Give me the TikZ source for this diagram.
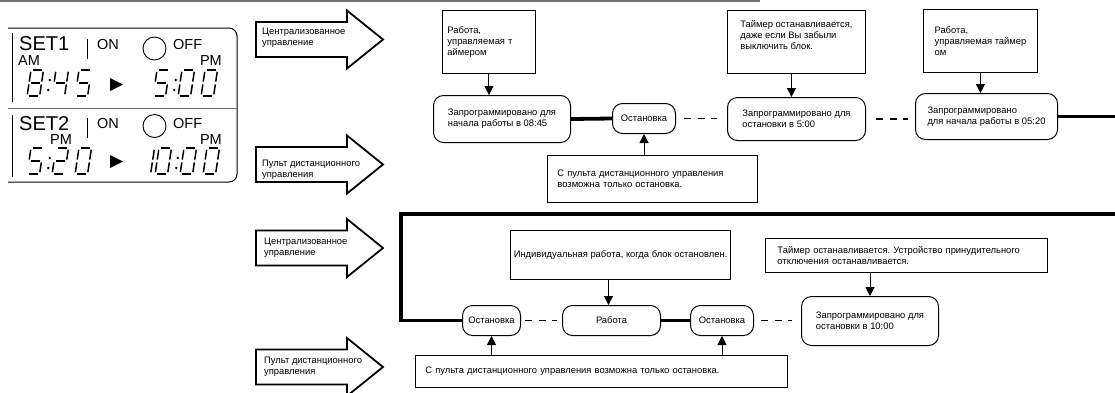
\documentclass[tikz,border=0pt]{standalone}
\usepackage{fontspec}
\setmainfont{Liberation Sans}
\usetikzlibrary{positioning, arrows.meta}
\frenchspacing

% seven-segment cell: width 12.5, height 26
\tikzset{
    seg a/.style={insert path={(1.8,0) -- (10.7,0)}},
    seg b/.style={insert path={(12.5,1.8) -- (12.5,11.6)}},
    seg c/.style={insert path={(12.5,14.4) -- (12.5,24.2)}},
    seg d/.style={insert path={(1.8,26) -- (10.7,26)}},
    seg e/.style={insert path={(0,14.4) -- (0,24.2)}},
    seg f/.style={insert path={(0,1.8) -- (0,11.6)}},
    seg g/.style={insert path={(1.8,13) -- (10.7,13)}}
}
\newcommand{\lcddigit}[3]{%
  \begin{scope}[shift={(#1,#2)}, xslant=0.15]
    \foreach \s in {#3} \draw[lcd, seg \s];
  \end{scope}}
\newcommand{\lcdcolon}[2]{%
  \fill (#1+0.8,#2+10) circle (1.4);
  \fill (#1-0.8,#2+20) circle (1.4);}

\begin{document}
\begin{tikzpicture}[
    x=1pt, y=-1pt,
    font=\fontsize{9.4}{11}\selectfont,
    note/.style={rectangle, draw, line width=0.9pt, align=left, anchor=north west, inner ysep=2pt},
    state/.style={rectangle, draw, line width=1pt, rounded corners=10pt, align=left, anchor=north west},
    stop/.style={state, align=center, inner sep=1pt},
    thickline/.style={line width=3.8pt},
    dashline/.style={line width=1.2pt, dash pattern=on 7pt off 6.5pt},
    arrow/.style={-{Triangle[width=9pt,length=9pt]}, line width=1pt},
    lcd/.style={line width=1.5pt},
    big/.style={font=\fontsize{20}{22}\selectfont, inner sep=0pt},
    mid/.style={font=\fontsize{14.5}{16}\selectfont, inner sep=0pt},
    label/.style={align=left, anchor=north west, inner sep=0pt},
    ctrlarrow/.pic={
        \draw[line width=1.8pt] (0,-17.5) -- (91,-17.5) -- (91,-29) -- (127,0)
            -- (91,29) -- (91,17.5) -- (0,17.5) -- cycle;
    }
]
\clip (0,0) rectangle (1115,392);

\draw[black!55, line width=1.2pt] (0,1) -- (760,1);

% timer panel
\draw[line width=1pt, rounded corners=8pt] (8,28) -- (237,28) -- (237,182) -- (8,182);
\draw[black!60, line width=1pt] (8,108) -- (237,108);
\draw[line width=0.8pt] (12,33) -- (12,102);
\draw[line width=0.8pt] (12,115) -- (12,177);

\node[big, anchor=base west] (set1) at (19,50) {SET1};
\node[mid, anchor=base west] (am1) at (18,65) {AM};
\draw[line width=0.8pt] (87,39) -- (87,59);
\node[mid, anchor=base west] (on1) at (97,49) {ON};
\draw[line width=0.9pt] (154.5,48.5) circle (11.5);
\node[mid, anchor=base west] (off1) at (173,49) {OFF};
\node[mid, anchor=base east] (pm1) at (222,65) {PM};

\node[big, anchor=base west] (set2) at (19,130) {SET2};
\node[mid, anchor=base west] (pm2) at (50,144) {PM};
\draw[line width=0.8pt] (87,118) -- (87,138);
\node[mid, anchor=base west] (on2) at (97,128) {ON};
\draw[line width=0.9pt] (154.5,126) circle (11.5);
\node[mid, anchor=base west] (off2) at (173,128) {OFF};
\node[mid, anchor=base east] (pm3) at (222,144) {PM};

\lcddigit{31}{70}{a,b,c,d,e,f,g}
\lcdcolon{49}{70}
\lcddigit{56}{70}{b,c,f,g}
\lcddigit{79}{70}{a,c,d,f,g}
\fill (110,78) -- (123,84.5) -- (110,91) -- cycle;
\lcddigit{157}{70}{a,c,d,f,g}
\lcdcolon{175}{70}
\lcddigit{182}{70}{a,b,c,d,e,f}
\lcddigit{205}{70}{a,b,c,d,e,f}

\lcddigit{31}{148}{a,c,d,f,g}
\lcdcolon{49}{148}
\lcddigit{56}{148}{a,b,d,e,g}
\lcddigit{79}{148}{a,b,c,d,e,f}
\fill (110,155) -- (123,161.5) -- (110,168) -- cycle;
\lcddigit{142}{148}{b,c}
\lcddigit{159}{148}{a,b,c,d,e,f}
\lcdcolon{177}{148}
\lcddigit{184}{148}{a,b,c,d,e,f}
\lcddigit{207}{148}{a,b,c,d,e,f}

% control arrows
\pic at (256,39.5) {ctrlarrow};
\node[label] (central1) at (262,28) {Централизованное\\управление};
\pic at (256,164.5) {ctrlarrow};
\node[label] (remotectl1) at (262,160) {Пульт дистанционного\\управления};
\pic at (256,248) {ctrlarrow};
\node[label] (central2) at (264,238) {Централизованное\\управление};
\pic at (256,367) {ctrlarrow};
\node[label] (remotectl2) at (264,357) {Пульт дистанционного\\управления};

% SET1
\node[note, minimum width=93pt, minimum height=63pt, text width=83pt, inner xsep=5pt] (run1) at (442,10) {Работа,\\управляемая т\\аймером};
\node[state, minimum width=137pt, minimum height=47pt] (prog1) at (433,95) {Запрограммировано для\\начала работы в 08:45};
\node[stop, minimum width=63pt, minimum height=30pt] (stop1) at (612,103) {Остановка};
\node[note, minimum width=210pt, minimum height=47pt, text width=190pt, inner xsep=10pt] (remote1) at (547,155) {С пульта дистанционного управления\\возможна только остановка.};
\node[note, minimum width=138pt, minimum height=63pt, text depth=14pt] (timer1) at (727,10) {Таймер останавливается,\\даже если Вы забыли\\выключить блок.};
\node[state, minimum width=138pt, minimum height=43pt] (prog2) at (727,97) {Запрограммировано для\\остановки в 5:00};
\node[note, minimum width=114pt, minimum height=63pt] (run2) at (923,9) {Работа,\\управляемая таймер\\ом};
\node[state, minimum width=142pt, minimum height=46pt] (prog3) at (915,93) {Запрограммировано\\для начала работы в 05:20};
\coordinate (end1) at (1115,117);

\draw[arrow] (run1.south) -- (run1.south |- prog1.north);
\draw[thickline] (prog1.east) -- (stop1.west);
\draw[dashline, shorten <=8pt, shorten >=10pt] (stop1.east) -- (stop1.east -| prog2.west);
\draw[arrow] ([xshift=-5pt]timer1.south) -- ([xshift=-5pt]timer1.south |- prog2.north);
\draw[dashline, shorten <=10pt, shorten >=7pt] (prog2.east) -- (prog2.east -| prog3.west);
\draw[arrow] (run2.south) -- (run2.south |- prog3.north);
\draw[thickline] (prog3.east) -- (prog3.east -| end1);
\draw[arrow] (stop1.south |- remote1.north) -- (stop1.south);

% SET2
\coordinate (start2) at (1115,214);
\coordinate (corner2) at (401,214);
\node[stop, minimum width=58pt, minimum height=30pt] (stop2) at (462,305) {Остановка};
\node[stop, minimum width=98pt, minimum height=30pt] (work) at (562,305) {Работа};
\node[stop, minimum width=63pt, minimum height=30pt] (stop3) at (690,305) {Остановка};
\node[state, minimum width=137pt, minimum height=49pt] (prog4) at (801,296) {Запрограммировано для\\остановки в 10:00};
\node[note, minimum width=212pt, minimum height=49pt] (single) at (510,230) {Индивидуальная работа, когда блок остановлен.};
\node[note, minimum width=282pt, minimum height=34pt, text width=258pt, inner xsep=12pt] (timer2) at (765,238) {Таймер останавливается. Устройство принудительного\\отключения останавливается.};
\node[note, minimum width=372pt, minimum height=32pt, text width=352pt, inner xsep=10pt] (remote2) at (415,355) {С пульта дистанционного управления возможна только остановка.};

\draw[thickline] (start2) -- (corner2) |- (stop2.west);
\draw[dashline, shorten <=4pt, shorten >=5pt] (stop2.east) -- (work.west);
\draw[thickline] (work.east) -- (stop3.west);
\draw[dashline, shorten <=7pt, shorten >=9pt] (stop3.east) -- (stop3.east -| prog4.west);
\draw[arrow] ([xshift=-3pt]work.north |- single.south) -- ([xshift=-3pt]work.north);
\draw[arrow] (prog4.north |- timer2.south) -- (prog4.north);
\draw[arrow] (stop2.south |- remote2.north) -- (stop2.south);
\draw[arrow] (stop3.south |- remote2.north) -- (stop3.south);
\end{tikzpicture}
\end{document}
